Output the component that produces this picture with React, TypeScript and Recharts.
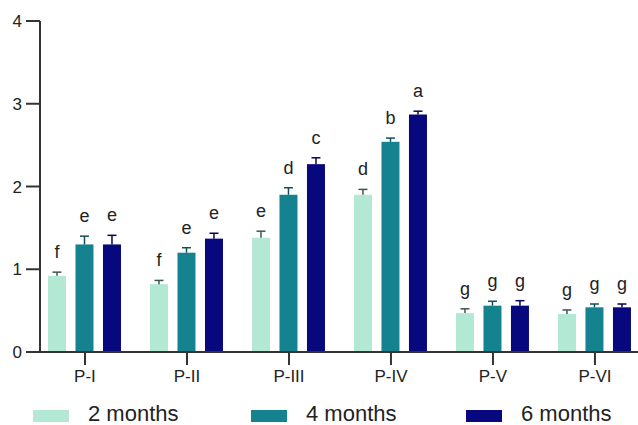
import { Bar, BarChart, Legend, XAxis, YAxis } from "recharts";

const categories = ["P-I", "P-II", "P-III", "P-IV", "P-V", "P-VI"];
const seriesNames = ["2 months", "4 months", "6 months"];

const mean2 = [0.92, 0.82, 1.38, 1.9, 0.47, 0.46];
const mean4 = [1.3, 1.2, 1.9, 2.54, 0.56, 0.54];
const mean6 = [1.3, 1.37, 2.27, 2.87, 0.56, 0.54];

const err2 = [0.045, 0.045, 0.08, 0.065, 0.052, 0.048];
const err4 = [0.1, 0.06, 0.085, 0.045, 0.053, 0.04];
const err6 = [0.11, 0.065, 0.077, 0.04, 0.06, 0.04];

const letters2 = ["f", "f", "e", "d", "g", "g"];
const letters4 = ["e", "e", "d", "b", "g", "g"];
const letters6 = ["e", "e", "c", "a", "g", "g"];

const yTicks = [0, 1, 2, 3, 4];

const COLORS = ["#b3e8d5", "#15828f", "#08087e"];
const ERR_COLORS = ["#3d5553", "#0f4f58", "#05054f"];
const LEGEND_X = [33, 251, 466];
const FONT = "'Liberation Sans', Arial, sans-serif";

const rows = categories.map((name, i) => ({
  pos: i,
  name,
  m2: mean2[i],
  m4: mean4[i],
  m6: mean6[i],
  e2: err2[i],
  e4: err4[i],
  e6: err6[i],
  l2: letters2[i],
  l4: letters4[i],
  l6: letters6[i],
}));

function makeBarShape(valueKey: string, errKey: string, letterKey: string, fill: string, errColor: string) {
  return (props: any) => {
    const { x, y, width, height, payload } = props;
    const v = payload[valueKey];
    // pixels per unit, taken from the bar the library laid out
    const pxPerUnit = v > 0 ? height / v : 0;
    const top = y - payload[errKey] * pxPerUnit;
    const cx = x + width / 2;
    return (
      <g>
        <rect x={x} y={y} width={width} height={height} fill={fill} />
        <line x1={cx} x2={cx} y1={y} y2={top} stroke={errColor} strokeWidth={1.5} />
        <line x1={cx - 4.5} x2={cx + 4.5} y1={top} y2={top} stroke={errColor} strokeWidth={1.5} />
        <text x={cx} y={top - 14} textAnchor="middle" fontSize={18} fill="#222" fontFamily={FONT}>
          {payload[letterKey]}
        </text>
      </g>
    );
  };
}

function renderLegend() {
  return (
    <div style={{ position: "relative", width: 638, height: 28, fontFamily: FONT }}>
      {seriesNames.map((name, i) => (
        <div key={name}>
          <div
            style={{
              position: "absolute",
              left: LEGEND_X[i],
              top: 13,
              width: 36,
              height: 12,
              background: COLORS[i],
            }}
          />
          <span
            style={{
              position: "absolute",
              left: LEGEND_X[i] + 55,
              top: 4,
              fontSize: 22,
              color: "#222",
              whiteSpace: "nowrap",
            }}
          >
            {name}
          </span>
        </div>
      ))}
    </div>
  );
}

export default function App() {
  return (
    <div style={{ position: "absolute", left: 0, top: 0, width: 638, height: 425, background: "#fff" }}>
      <BarChart
        width={638}
        height={425}
        data={rows}
        margin={{ top: 21, right: 0, bottom: 0, left: 0 }}
        barGap={9.5}
        style={{ fontFamily: FONT }}
      >
        <XAxis
          type="number"
          dataKey="pos"
          domain={[-0.441, 5.422]}
          allowDataOverflow
          ticks={[0, 1, 2, 3, 4, 5]}
          interval={0}
          tickFormatter={(i: number) => categories[i] ?? ""}
          height={45}
          tickSize={13}
          tickMargin={5}
          tick={{ fontSize: 17, fill: "#222" }}
          axisLine={{ stroke: "#333", strokeWidth: 2 }}
          tickLine={{ stroke: "#333", strokeWidth: 2 }}
        />
        <YAxis
          domain={[0, 4]}
          ticks={yTicks}
          width={40}
          tickSize={14}
          tickMargin={4}
          tick={{ fontSize: 17, fill: "#222" }}
          axisLine={{ stroke: "#333", strokeWidth: 2 }}
          tickLine={{ stroke: "#333", strokeWidth: 2 }}
        />
        <Legend verticalAlign="bottom" height={28} content={renderLegend} />
        <Bar
          dataKey="m2"
          name={seriesNames[0]}
          barSize={18}
          fill={COLORS[0]}
          isAnimationActive={false}
          shape={makeBarShape("m2", "e2", "l2", COLORS[0], ERR_COLORS[0])}
        />
        <Bar
          dataKey="m4"
          name={seriesNames[1]}
          barSize={18}
          fill={COLORS[1]}
          isAnimationActive={false}
          shape={makeBarShape("m4", "e4", "l4", COLORS[1], ERR_COLORS[1])}
        />
        <Bar
          dataKey="m6"
          name={seriesNames[2]}
          barSize={18}
          fill={COLORS[2]}
          isAnimationActive={false}
          shape={makeBarShape("m6", "e6", "l6", COLORS[2], ERR_COLORS[2])}
        />
      </BarChart>
    </div>
  );
}
